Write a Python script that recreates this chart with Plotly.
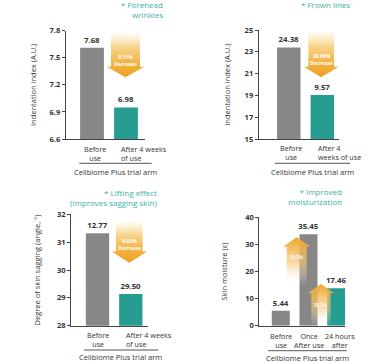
import plotly.graph_objects as go

# ---------------- data ----------------
titles = ["* Forehead<br>wrinkles", "* Frown lines", "* Lifting effect<br>(improves sagging skin)", "* Improved<br>moisturization"]
y_titles = ["Indentation index (A.U.)", "Indentation index (A.U.)", "Degree of skin sagging (angle, °)", "Skin moisture (ε)"]
group_label = "Cellbiome Plus trial arm"

cats1 = ["Before<br>use", "After 4 weeks<br>of use"]
bars1 = [7.61, 6.95]
labels1 = ["7.68", "6.98"]
ticks1 = [6.6, 6.9, 7.2, 7.5, 7.8]
change1 = "9.11%<br>Decrease"

cats2 = ["Before<br>use", "After 4<br>weeks of use"]
bars2 = [23.4, 19.05]
labels2 = ["24.38", "9.57"]
ticks2 = [15, 17, 19, 21, 23, 25]
change2 = "20.99%<br>Decrease"

cats3 = ["Before<br>use", "After 4 weeks<br>of use"]
bars3 = [31.32, 29.14]
labels3 = ["12.77", "29.50"]
ticks3 = [28, 29, 30, 31, 32]
change3 = "9.63%<br>Decrease"

cats4 = ["Before<br>use", "Once<br>After use", "24 hours<br>after"]
bars4 = [5.5, 33.7, 13.8]
labels4 = ["5.44", "35.45", "17.46"]
ticks4 = [0, 10, 20, 30, 40]
change4 = ["582%", "582%"]

GRAY = "#878787"
TEAL = "#279d92"
TITLE_C = "#3db1a5"
TXT = "#333333"
FONT = "Open Sans"
W, H = 381, 362


def PX(px):
    return px / W


def PY(py):
    return 1 - py / H


fig = go.Figure()

panels = [
    dict(cats=cats1, bars=bars1, labels=labels1, ticks=ticks1, fmt=".1f", colors=[GRAY, TEAL],
         xdom=(65.7, 145), xr=(-0.774, 1.559), ydom=(139, 30.7), yr=(6.6, 7.8), bw=0.70, so=11),
    dict(cats=cats2, bars=bars2, labels=labels2, ticks=ticks2, fmt="d", colors=[GRAY, TEAL],
         xdom=(258.7, 339), xr=(-0.899, 1.499), ydom=(139.3, 30), yr=(15, 25), bw=0.70, so=12),
    dict(cats=cats3, bars=bars3, labels=labels3, ticks=ticks3, fmt="d", colors=[GRAY, TEAL],
         xdom=(71, 148), xr=(-0.796, 1.517), ydom=(325.7, 214.3), yr=(28, 32), bw=0.70, so=15),
    dict(cats=cats4, bars=bars4, labels=labels4, ticks=ticks4, fmt="d", colors=[GRAY, GRAY, TEAL],
         xdom=(259.3, 345.3), xr=(-0.776, 2.329), ydom=(325.7, 217.3), yr=(0, 40), bw=0.65, so=16),
]

layout = {}
for i, p in enumerate(panels):
    sfx = "" if i == 0 else str(i + 1)
    xa, ya = "x" + sfx, "y" + sfx
    fig.add_trace(go.Bar(
        x=list(range(len(p["bars"]))), y=p["bars"], width=p["bw"],
        marker=dict(color=p["colors"], line=dict(width=0)),
        text=p["labels"], textposition="outside", constraintext="none", cliponaxis=False,
        textfont=dict(family=FONT, size=7.8, color=TXT, weight="bold"),
        xaxis=xa, yaxis=ya, showlegend=False, hoverinfo="skip"))
    layout["xaxis" + sfx] = dict(domain=[PX(p["xdom"][0]), PX(p["xdom"][1])], range=list(p["xr"]),
                                 anchor=ya, showline=True, linecolor="#444", linewidth=1,
                                 showticklabels=False, ticks="", showgrid=False, zeroline=False,
                                 fixedrange=True)
    layout["yaxis" + sfx] = dict(domain=[PY(p["ydom"][0]), PY(p["ydom"][1])], range=list(p["yr"]),
                                 anchor=xa, showline=True, linecolor="#444", linewidth=1,
                                 ticks="outside", ticklen=3, tickcolor="#444", tickvals=p["ticks"],
                                 tickformat=p["fmt"],
                                 tickfont=dict(family=FONT, size=7.5, color=TXT, weight="bold"),
                                 title=dict(text=y_titles[i], font=dict(family=FONT, size=7.5, color=TXT),
                                            standoff=p["so"]),
                                 showgrid=False, zeroline=False, fixedrange=True, automargin=False)


def arrow_poly(cx, shw, hhw, yend, ybase, ytip):
    xs = [cx - shw, cx + shw, cx + shw, cx + hhw, cx, cx - hhw, cx - shw, cx - shw]
    ys = [yend, yend, ybase, ybase, ytip, ybase, ybase, yend]
    return xs, ys


down_scale = [[0, "rgb(238,160,30)"], [0.35, "rgb(242,182,72)"], [0.7, "rgb(248,214,145)"],
              [1, "rgba(255,246,228,0.5)"]]
up_scale = [[0, "rgba(255,255,255,0)"], [0.45, "rgba(246,200,120,0.65)"], [1, "rgb(238,165,40)"]]

# down arrows (charts 1-3): (panel, cx, shaft hw, head hw, top, head base, tip, text y)
downs = [
    (0, 0.985, 0.426, 0.55, 7.775, 7.401, 7.284, 7.47, change1),
    (1, 0.967, 0.384, 0.522, 24.84, 21.64, 20.67, 22.3, change2),
    (2, 0.955, 0.40, 0.535, 31.73, 30.66, 30.26, 30.91, change3),
]
for (pi, cx, shw, hhw, yt, yb, ytip, ytxt, txt) in downs:
    sfx = "" if pi == 0 else str(pi + 1)
    xs, ys = arrow_poly(cx, shw, hhw, yt, yb, ytip)
    fig.add_trace(go.Scatter(x=xs, y=ys, fill="toself", mode="lines", line=dict(width=0),
                             fillgradient=dict(type="vertical", colorscale=down_scale),
                             xaxis="x" + sfx, yaxis="y" + sfx, showlegend=False, hoverinfo="skip"))
    fig.add_annotation(x=cx, y=ytxt, xref="x" + sfx, yref="y" + sfx, text=txt, showarrow=False,
                       xanchor="center", yanchor="middle",
                       font=dict(family=FONT, size=5, color="white", weight="bold"))

# up arrows (chart 4)
ups = [(0.574, 0.361, 0.495, 15.0, 29.15, 32.6, 25.2, change4[0]),
       (1.45, 0.348, 0.48, 0.0, 11.96, 15.4, 7.6, change4[1])]
for (cx, shw, hhw, ybot, yb, ytip, ytxt, txt) in ups:
    xs, ys = arrow_poly(cx, shw, hhw, ybot, yb, ytip)
    fig.add_trace(go.Scatter(x=xs, y=ys, fill="toself", mode="lines", line=dict(width=0),
                             fillgradient=dict(type="vertical", colorscale=up_scale),
                             xaxis="x4", yaxis="y4", showlegend=False, hoverinfo="skip"))
    fig.add_annotation(x=cx, y=ytxt, xref="x4", yref="y4", text=txt, showarrow=False,
                       xanchor="center", yanchor="middle",
                       font=dict(family=FONT, size=5, color="rgba(255,255,255,0.85)", weight="bold"))

# category labels: (panel, [(x data, align)], center y px of the two-line block)
cat_pos = [
    (0, [(0.09, "center"), (0.82, "left")], 153.3),
    (1, [(0.057, "center"), (0.84, "left")], 152.5),
    (2, [(0.0, "center"), (0.826, "left")], 339.6),
    (3, [(0.0, "center"), (1.02, "center"), (2.14, "center")], 340.1),
]
cat_lists = [cats1, cats2, cats3, cats4]
for pi, poss, yc in cat_pos:
    sfx = "" if pi == 0 else str(pi + 1)
    for (xv, al), txt in zip(poss, cat_lists[pi]):
        fig.add_annotation(x=xv, y=PY(yc), xref="x" + sfx, yref="paper", text=txt,
                           showarrow=False, xanchor=al, yanchor="middle", align=al, borderpad=0,
                           font=dict(family=FONT, size=7.2, color=TXT))

# separator lines & group labels
seps = [(79.3, 151.7, 163.3, 115, 172), (275, 350, 163.3, 312.7, 171.7),
        (84, 158.3, 350, 120, 357.3), (268, 346.7, 350.7, 307.5, 358)]
for x0, x1, yl, xt, yt in seps:
    fig.add_shape(type="line", xref="paper", yref="paper", x0=PX(x0), x1=PX(x1), y0=PY(yl), y1=PY(yl),
                  line=dict(color="#555", width=1))
    fig.add_annotation(x=PX(xt), y=PY(yt), xref="paper", yref="paper", text=group_label,
                       showarrow=False, xanchor="center", yanchor="middle", borderpad=0,
                       font=dict(family=FONT, size=7.5, color=TXT))

# panel titles (right-aligned): (right x px, top y px)
tpos = [(165, -3), (352.3, -3), (159.3, 184.5), (344, 184)]
for (xr, yt), t in zip(tpos, titles):
    fig.add_annotation(x=PX(xr), y=PY(yt), xref="paper", yref="paper", text=t, showarrow=False,
                       xanchor="right", yanchor="top", align="right",
                       font=dict(family=FONT, size=8, color=TITLE_C))

fig.update_layout(width=W, height=H, autosize=False, margin=dict(l=0, r=0, t=0, b=0),
                  paper_bgcolor="white", plot_bgcolor="white", showlegend=False, **layout)

fig.write_html("out.html", config={"displayModeBar": False},
               post_script="document.body.style.margin='0';document.body.style.overflow='hidden';")
